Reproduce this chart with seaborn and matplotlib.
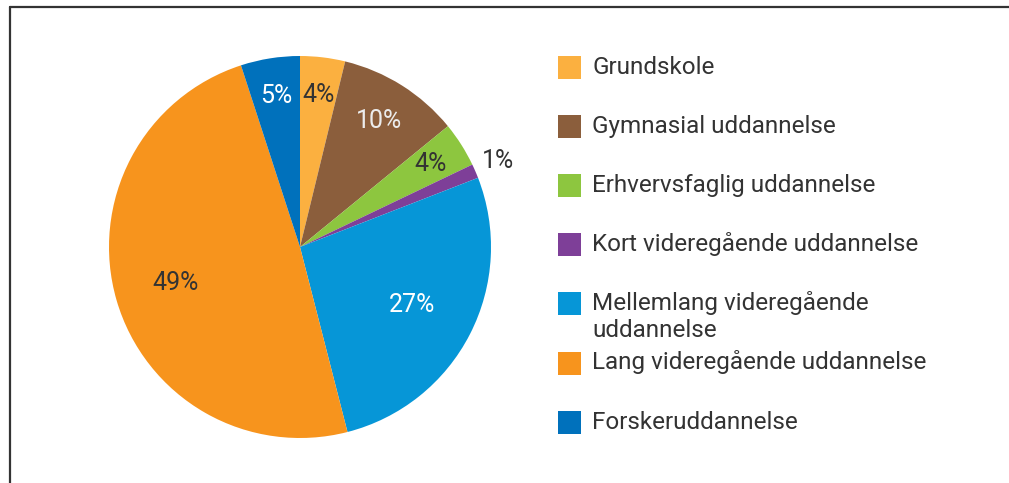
import matplotlib
matplotlib.use("Agg")
import matplotlib.pyplot as plt
from matplotlib.patches import Rectangle
from matplotlib.lines import Line2D
import numpy as np
import seaborn as sns

# data
categories = [
    "Grundskole",
    "Gymnasial uddannelse",
    "Erhvervsfaglig uddannelse",
    "Kort videregående uddannelse",
    "Mellemlang videregående\nuddannelse",
    "Lang videregående uddannelse",
    "Forskeruddannelse",
]
shares = [3.8, 10.3, 3.8, 1.2, 26.9, 49.0, 5.0]
pct_labels = ["4%", "10%", "4%", "1%", "27%", "49%", "5%"]

colors = ["#FBB040", "#8B5E3C", "#8DC63F", "#7E3F98", "#0696D7", "#F7941D", "#0071BC"]
label_colors = ["#333333", "#ececec", "#333333", "#333333", "#ffffff", "#333333", "#ffffff"]
label_radius = [0.8, 0.78, 0.81, 1.13, 0.66, 0.68, 0.8]

sns.set_theme(style="white")
plt.rcParams["font.family"] = ["Roboto", "DejaVu Sans"]

W, H = 1009, 483
fig = plt.figure(figsize=(W / 100, H / 100), dpi=100)
fig.patch.set_facecolor("white")

# pie axes: centre (300, 247), radius ~191 px
ax = fig.add_axes([109 / W, (H - 438) / H, 382 / W, 382 / H])
palette = sns.color_palette(colors)
wedges, _ = ax.pie(shares, colors=palette, startangle=90, counterclock=False,
                   wedgeprops=dict(linewidth=0))
ax.set_xlim(-1, 1)
ax.set_ylim(-1, 1)
ax.set_aspect("equal")
ax.axis("off")

for w, txt, col, r in zip(wedges, pct_labels, label_colors, label_radius):
    ang = np.deg2rad((w.theta1 + w.theta2) / 2)
    ax.text(r * np.cos(ang), r * np.sin(ang), txt, ha="center", va="center",
            fontsize=18, color=col)

# legend drawn by hand in pixel coordinates
lax = fig.add_axes([0, 0, 1, 1])
lax.set_xlim(0, W)
lax.set_ylim(H, 0)
lax.axis("off")
lax.patch.set_alpha(0)
top0, step = 55.5, 59.2
for i, (cat, col) in enumerate(zip(categories, colors)):
    y = top0 + i * step
    lax.add_patch(Rectangle((558, y), 23, 23, facecolor=col, edgecolor="none"))
    for j, line in enumerate(cat.split("\n")):
        lax.text(592, y + 18 + j * 27, line, ha="left", va="baseline",
                 fontsize=17.5, color="#333333")

# frame lines (top and left only)
fig.add_artist(Line2D([9.5 / W, 1], [1 - 6.5 / H, 1 - 6.5 / H], color="#333333", lw=1.6,
                      transform=fig.transFigure))
fig.add_artist(Line2D([9.5 / W, 9.5 / W], [0, 1 - 6.5 / H], color="#333333", lw=1.6,
                      transform=fig.transFigure))

fig.savefig("out.png", dpi=100)
